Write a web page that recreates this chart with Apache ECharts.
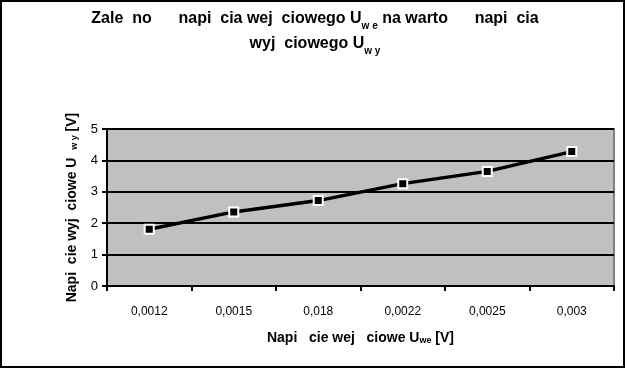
<!DOCTYPE html>
<html><head><meta charset="utf-8">
<script src="https://cdn.jsdelivr.net/npm/echarts@6/dist/echarts.min.js"></script>
<style>html,body{margin:0;padding:0;background:#fff}#c{width:627px;height:369px}</style>
</head><body><div id="c"></div>
<script>
const categories = ['0,0012','0,0015','0,018','0,0022','0,0025','0,003'];
const uwy = [1.81, 2.36, 2.72, 3.26, 3.65, 4.28];
const yTicks = [0,1,2,3,4,5];

const chart = echarts.init(document.getElementById('c'));
const F = '"Liberation Sans", Arial, sans-serif';
chart.setOption({
  animation:false,
  backgroundColor:'#fff',
  title:{
    text:'Zale  no      napi  cia wej  ciowego U{s|w e} na warto      napi  cia\nwyj  ciowego U{s|w y}',
    left:315, top:6, padding:0, textAlign:'center',
    textStyle:{fontFamily:F,fontSize:16,fontWeight:'bold',color:'#000',lineHeight:25,
      rich:{s:{fontFamily:F,fontSize:10,fontWeight:'bold',verticalAlign:'bottom',padding:[7,0,0,0],lineHeight:25}}}
  },
  graphic:[{type:'rect',shape:{x:1,y:1,width:623,height:366},style:{fill:'none',stroke:'#000',lineWidth:2},z:100}],
  grid:{left:107,right:13,top:129,bottom:83,show:true,backgroundColor:'#C0C0C0',borderColor:'#808080',borderWidth:2},
  xAxis:{
    type:'category',data:categories,boundaryGap:true,
    axisLine:{lineStyle:{color:'#000',width:2}},
    axisTick:{show:true,length:5,lineStyle:{color:'#000',width:2},alignWithLabel:false},
    axisLabel:{fontFamily:F,fontSize:12,color:'#000',margin:20},
    name:'Napi   cie wej   ciowe U{s|we} [V]',nameLocation:'middle',nameGap:45,
    nameTextStyle:{fontFamily:F,fontSize:14,fontWeight:'bold',color:'#000',
      rich:{s:{fontFamily:F,fontSize:9,fontWeight:'bold',verticalAlign:'bottom',padding:[5,0,0,0]}}}
  },
  yAxis:{
    type:'value',min:yTicks[0],max:yTicks[yTicks.length-1],interval:1,
    axisLine:{show:true,lineStyle:{color:'#000',width:2}},
    axisTick:{show:true,length:5,lineStyle:{color:'#000',width:2}},
    axisLabel:{fontFamily:F,fontSize:13,color:'#000',margin:9},
    splitLine:{lineStyle:{color:'#000',width:2}},
    name:'Napi  cie wyj  ciowe U  {s|w y} [V]',nameLocation:'middle',nameGap:28,nameRotate:90,
    nameTextStyle:{fontFamily:F,fontSize:14,fontWeight:'bold',color:'#000',
      rich:{s:{fontFamily:F,fontSize:9,fontWeight:'bold',verticalAlign:'bottom',padding:[5,0,0,0]}}}
  },
  series:[{
    type:'line',data:uwy,symbol:'rect',symbolSize:9,
    lineStyle:{color:'#000',width:3.5},
    itemStyle:{color:'#000',borderColor:'#fff',borderWidth:2}
  }]
});
</script></body></html>
